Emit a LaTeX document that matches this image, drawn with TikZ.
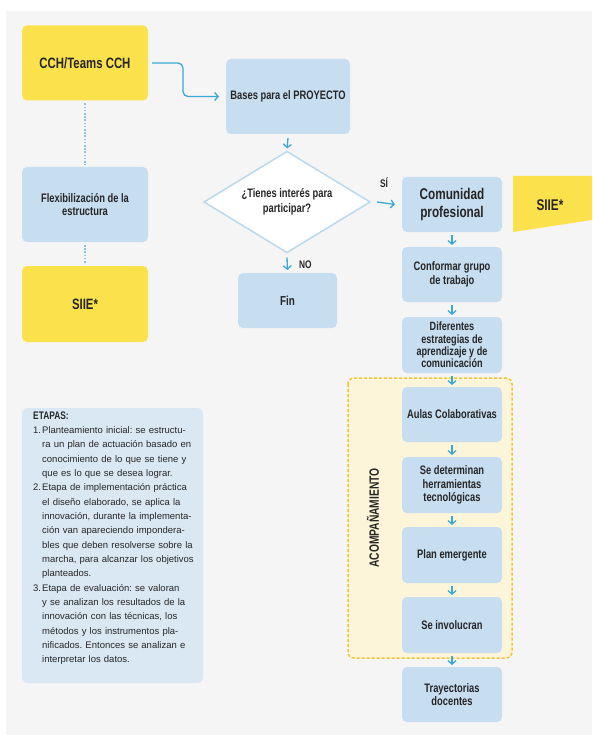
\documentclass[tikz,border=0pt]{standalone}
\usepackage{fontspec}
\setmainfont{Liberation Sans}
\newfontfamily\cond{Liberation Sans}[FakeStretch=0.76]
\usetikzlibrary{arrows.meta,shapes.geometric}
\definecolor{ylw}{HTML}{FBE24C}
\definecolor{bbox}{HTML}{C7DDF0}
\definecolor{ebox}{HTML}{DAE8F4}
\definecolor{arr}{HTML}{3AA8D6}
\definecolor{dotc}{HTML}{86C5E2}
\definecolor{dia}{HTML}{BAD8EE}
\definecolor{cream}{HTML}{FDF5D9}
\definecolor{dashc}{HTML}{F5C232}
\definecolor{panel}{HTML}{F5F5F5}
\definecolor{txt}{HTML}{262626}
\newcommand{\jl}[1]{\makebox[157pt][s]{#1}}
\newcommand{\num}[1]{\makebox[9pt][l]{#1}}
\newcommand{\ind}{\hspace*{9pt}}
\frenchspacing
\begin{document}
\begin{tikzpicture}[x=1pt,y=-1pt,
 box/.style={rounded corners=5pt, fill=bbox, inner sep=0pt, outer sep=0pt, align=center, text=txt, font=\cond\bfseries\fontsize{12.3}{13.5}\selectfont},
 ybox/.style={box, fill=ylw},
 flow/.style={draw=arr, line width=1.3pt, -{Straight Barb[length=3.5pt,width=8pt]}},
 dotl/.style={draw=dotc, line width=1.6pt, dash pattern=on 1.6pt off 1.6pt},
 lbl/.style={text=txt, font=\cond\bfseries\fontsize{11}{12}\selectfont, inner sep=0pt}
]
\useasboundingbox (0,0) rectangle (592,735);
\fill[white] (0,0) rectangle (592,735);
\fill[panel] (6,11) rectangle (592,735);

% accompaniment region
\draw[fill=cream, draw=dashc, line width=1.5pt, dash pattern=on 3pt off 2pt, rounded corners=6pt] (348,378) rectangle (512,658);
% etapas box
\fill[ebox, rounded corners=6pt] (22,408) rectangle (203,683);

% left column
\node[ybox, minimum width=126pt, minimum height=75pt, font=\cond\bfseries\fontsize{15}{17}\selectfont] (cch) at (85,63) {CCH/Teams CCH};
\node[box, minimum width=126pt, minimum height=75pt] (flex) at (85,204.5) {Flexibilización de la\\estructura};
\node[ybox, minimum width=126pt, minimum height=76pt, font=\cond\bfseries\fontsize{15}{17}\selectfont] (siiel) at (85,304) {SIIE*};

% middle column
\node[box, minimum width=124pt, minimum height=75pt] (bases) at (288,96.5) {Bases para el PROYECTO};
\node[diamond, draw=dia, line width=1.5pt, fill=white, minimum width=166pt, minimum height=101pt, aspect=1.64, inner sep=0pt, outer sep=0pt, align=center, text=txt, font=\cond\bfseries\fontsize{12.3}{15}\selectfont] (dq) at (287,202) {¿Tienes interés para\\participar?};
\node[box, minimum width=99pt, minimum height=55pt, font=\cond\bfseries\fontsize{13}{15}\selectfont] (fin) at (287.5,300.5) {Fin};

% right column
\node[box, minimum width=100pt, minimum height=55pt, font=\cond\bfseries\fontsize{15.5}{18}\selectfont] (com) at (452,204.5) {Comunidad\\profesional};
\node[box, minimum width=100pt, minimum height=55pt] (conf) at (452,274.5) {Conformar grupo\\de trabajo};
\node[box, minimum width=100pt, minimum height=56pt, font=\cond\bfseries\fontsize{12}{12.3}\selectfont] (dif) at (452,345) {Diferentes\\estrategias de\\aprendizaje y de\\comunicación};
\node[box, minimum width=100pt, minimum height=55pt] (aulas) at (452,414.5) {Aulas Colaborativas};
\node[box, minimum width=100pt, minimum height=56pt] (det) at (452,485) {Se determinan\\herramientas\\tecnológicas};
\node[box, minimum width=100pt, minimum height=56pt] (plan) at (452,555) {Plan emergente};
\node[box, minimum width=100pt, minimum height=56pt] (inv) at (452,625) {Se involucran};
\node[box, minimum width=100pt, minimum height=55pt] (tray) at (452,694.5) {Trayectorias\\docentes};

% right SIIE tab
\fill[ylw] (513,176) -- (592,176) -- (592,220) -- (513,232) -- cycle;
\node[lbl, font=\cond\bfseries\fontsize{15.5}{18}\selectfont] (siier) at (550,205) {SIIE*};

% accompaniment label
\node[lbl, rotate=90, font=\cond\bfseries\fontsize{13.5}{16}\selectfont] (acomp) at (373,518) {ACOMPAÑAMIENTO};

% labels
\node[lbl, anchor=west] (no) at (299,265) {NO};
\node[lbl] (si) at (384,183) {SÍ};

% connectors
\draw[flow, rounded corners=5pt] ([xshift=4pt]cch.east) -- ++(31,0) |- ([xshift=-7pt]bases.west);
\draw[dotl, shorten <=3pt, shorten >=2pt] (cch.south) -- (flex.north);
\draw[dotl, shorten <=3pt, shorten >=2pt] (flex.south) -- (siiel.north);
\draw[flow] ([yshift=-4pt]bases.south) -- ([yshift=3pt]dq.north);
\draw[flow] ([yshift=-5pt]dq.south) -- ([yshift=3pt]fin.north);
\draw[flow] ([xshift=7pt]dq.east) -- ([xshift=-7pt]com.west);
\draw[flow] ([yshift=-3pt]com.south) -- ([yshift=2pt]conf.north);
\draw[flow] ([yshift=-3pt]conf.south) -- ([yshift=2pt]dif.north);
\draw[flow] ([yshift=-3pt]dif.south) -- ([yshift=2pt]aulas.north);
\draw[flow] ([yshift=-3pt]aulas.south) -- ([yshift=2pt]det.north);
\draw[flow] ([yshift=-3pt]det.south) -- ([yshift=2pt]plan.north);
\draw[flow] ([yshift=-3pt]plan.south) -- ([yshift=2pt]inv.north);
\draw[flow] ([yshift=-3pt]inv.south) -- ([yshift=2pt]tray.north);

% etapas text
\node[anchor=base west, inner sep=0pt, text width=166pt, align=left, text=txt, font=\fontsize{9.5}{14.35}\selectfont] (etapas) at (33,419) {%
{\cond\bfseries\fontsize{11}{14.35}\selectfont ETAPAS:}\\
\num{1.}\jl{Planteamiento inicial: se estructu-}\\
\ind\jl{ra un plan de actuación basado en}\\
\ind\jl{conocimiento de lo que se tiene y}\\
\ind que es lo que se desea lograr.\\
\num{2.}\jl{Etapa de implementación práctica}\\
\ind\jl{el diseño elaborado, se aplica la}\\
\ind\jl{innovación, durante la implementa-}\\
\ind\jl{ción van apareciendo impondera-}\\
\ind\jl{bles que deben resolverse sobre la}\\
\ind\jl{marcha, para alcanzar los objetivos}\\
\ind planteados.\\
\num{3.}\jl{Etapa de evaluación: se valoran}\\
\ind\jl{y se analizan los resultados de la}\\
\ind\jl{innovación con las técnicas, los}\\
\ind\jl{métodos y los instrumentos pla-}\\
\ind\jl{nificados. Entonces se analizan e}\\
\ind interpretar los datos.};
\end{tikzpicture}
\end{document}
